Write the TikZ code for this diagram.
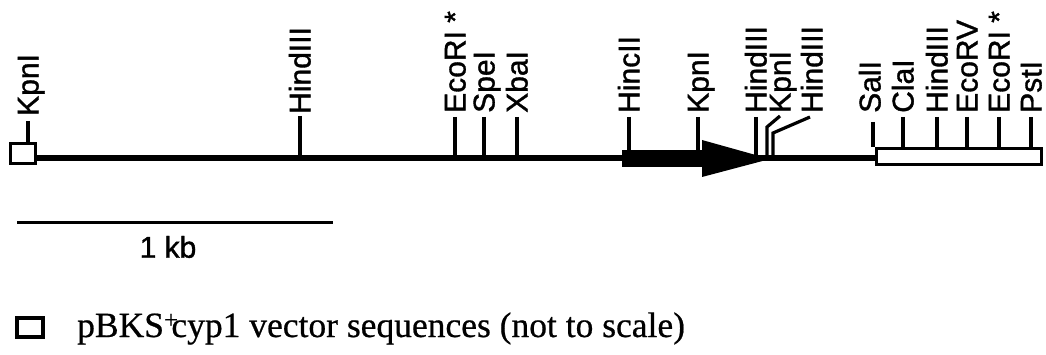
\documentclass[tikz,border=0pt]{standalone}
\usepackage{fontspec}
\setmainfont{Liberation Serif}[FakeBold=0.6]
\newfontfamily\lblfont{Liberation Sans}[FakeBold=1.2]
\begin{document}
\begin{tikzpicture}[x=1pt,y=-1pt,
  lbl/.style={rotate=90, anchor=west, inner sep=0pt, font=\lblfont\fontsize{30}{30}\selectfont, text height=21pt, text depth=0pt},
  tick/.style={line width=3.2pt},
  mainline/.style={line width=6pt},
  boxed/.style={draw, line width=3pt, fill=white},
  legend/.style={font=\bfseries\fontsize{35.5}{40}\selectfont, inner sep=0pt, anchor=base west}]
\useasboundingbox (0,0) rectangle (1046,355);
% backbone
\node[boxed, minimum width=25pt, minimum height=20pt, inner sep=0pt] (lsq) at (22.5,154) {};
\node[boxed, minimum width=165pt, minimum height=16pt, inner sep=0pt, anchor=west] (vec) at (875,157) {};
\draw[mainline] (lsq.east |- 0,158) -- (vec.west |- 0,158);
\fill (622,150) rectangle (703,167);
\fill (702,140) -- (770,159) -- (702,177) -- cycle;
% labels
\node[lbl] (k1) at (28,116) {KpnI};
\node[lbl] (h1) at (300,114) {HindIII};
\node[lbl] (e1) at (455,113) {EcoRI *};
\node[lbl] (s1) at (484,113) {SpeI};
\node[lbl] (x1) at (517,113) {XbaI};
\node[lbl] (hc) at (629,113) {HincII};
\node[lbl] (k2) at (698,113) {KpnI};
\node[lbl] (h2) at (756,113) {HindIII};
\node[lbl] (k3) at (780,113) {KpnI};
\node[lbl] (h3) at (812,113) {HindIII};
\node[lbl] (sa) at (870,113) {SalI};
\node[lbl] (cl) at (903,113) {ClaI};
\node[lbl] (h4) at (937,113) {HindIII};
\node[lbl] (ev) at (967,113) {EcoRV};
\node[lbl] (e2) at (999,113) {EcoRI *};
\node[lbl] (ps) at (1031,113) {PstI};
% ticks
\draw[tick] (28,121) -- (lsq.north -| 28,0);
\draw[tick] (300,116) -- (300,158);
\draw[tick] (455,117) -- (455,158);
\draw[tick] (484,117) -- (484,158);
\draw[tick] (517,117) -- (517,158);
\draw[tick] (629,117) -- (629,151);
\draw[tick] (698,117) -- (698,151);
\draw[tick] (756,117) -- (756,156);
\draw[tick] (780,116) -- (767,127) -- (767,157);
\draw[tick] (810,117) -- (773,133) -- (773,157);
\draw[tick] (873,122) -- (vec.north -| 873,0);
\draw[tick] (903,117) -- (vec.north -| 903,0);
\draw[tick] (937,117) -- (vec.north -| 937,0);
\draw[tick] (967,117) -- (vec.north -| 967,0);
\draw[tick] (999,117) -- (vec.north -| 999,0);
\draw[tick] (1031,117) -- (vec.north -| 1031,0);
% scale bar
\coordinate (sb1) at (17,223);
\coordinate (sb2) at (333,223);
\draw[line width=3pt] (sb1) -- (sb2);
\node[font=\lblfont\fontsize{30}{30}\selectfont, inner sep=0pt] (kb) at (168,247) {1 kb};
% legend
\node[boxed, line width=3.5pt, minimum width=26pt, minimum height=19pt, inner sep=0pt] (lgsq) at (30,327.5) {};
\node[legend, font=\fontsize{35.5}{40}\selectfont] (lgt) at (77,337) {pBKS\textsuperscript{+}\kern-0.2em cyp1 vector sequences (not to scale)};
\end{tikzpicture}
\end{document}
